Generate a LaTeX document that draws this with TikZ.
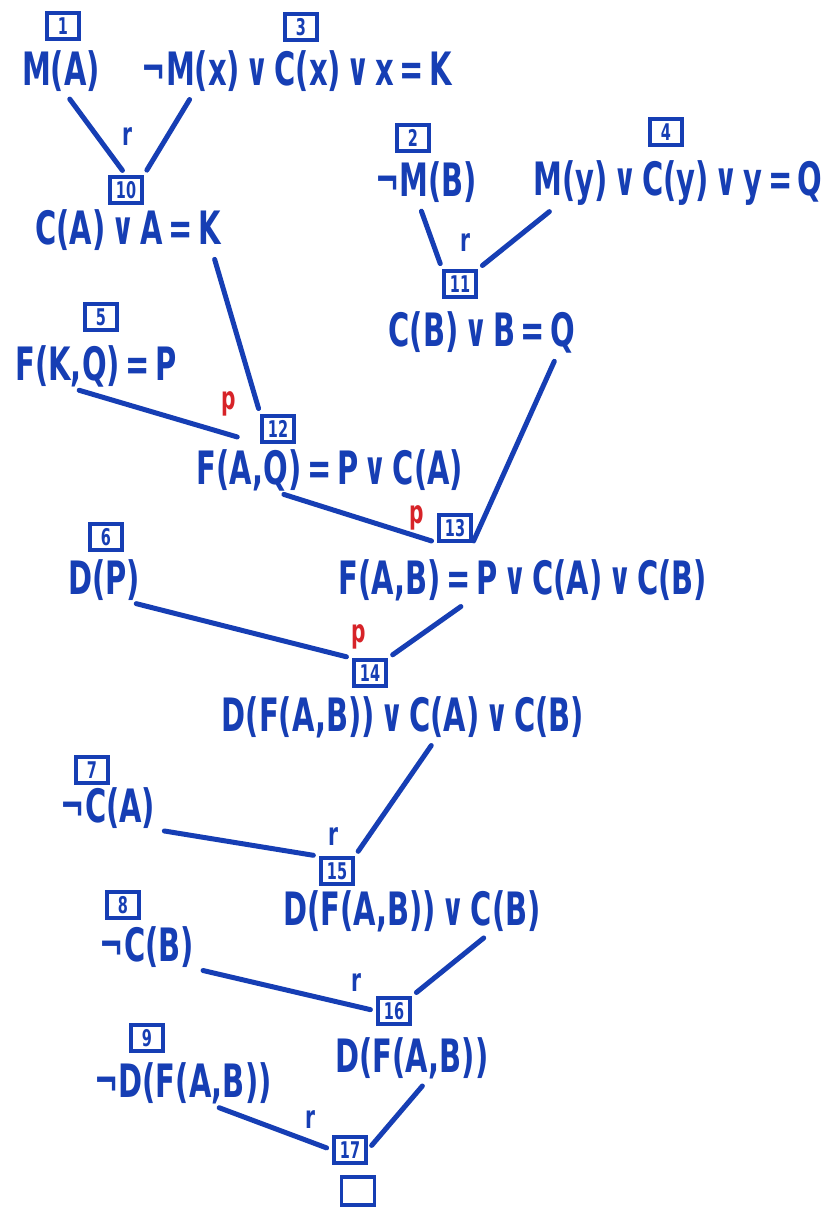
\documentclass[tikz,border=0pt]{standalone}
\usepackage{fontspec}
\newfontfamily\hand[FakeStretch=0.63,WordSpace=0.55]{DejaVu Sans}
\usetikzlibrary{calc}
\definecolor{ink}{RGB}{22,62,180}
\definecolor{redink}{RGB}{215,35,40}

\begin{document}
\begin{tikzpicture}
[x=1pt,y=-1pt,
 every node/.style={text=ink},
 clause/.style={inner sep=1pt,font=\hand\bfseries\fontsize{46}{50}\selectfont},
 num/.style={draw=ink,line width=3.5pt,minimum width=32pt,minimum height=26pt,
             inner sep=1pt,font=\hand\bfseries\fontsize{23}{24}\selectfont},
 link/.style={draw=ink,line width=5pt,line cap=round,shorten <=8pt,shorten >=6pt},
 res/.style={inner sep=0pt,font=\hand\bfseries\fontsize{32}{34}\selectfont},
 para/.style={res,text=redink}]

\useasboundingbox[fill=white] (0,0) rectangle (834,1208);

% input clauses
\node[clause] (c1) at (61,71) {M(A)};
\node[num] (b1) at (63,26) {1};
\node[clause] (c3) at (297,71) {¬M(x) ∨ C(x) ∨ x = K};
\node[num] (b3) at (301,27) {3};
\node[clause] (c2) at (426,182) {¬M(B)};
\node[num] (b2) at (413,138) {2};
\node[clause] (c4) at (678,183) {M(y) ∨ C(y) ∨ y = Q};
\node[num] (b4) at (666,132) {4};
\node[clause] (c5) at (96,366) {F(K,Q) = P};
\node[num] (b5) at (101,317) {5};
\node[clause] (c6) at (104,580) {D(P)};
\node[num] (b6) at (106,537) {6};
\node[clause] (c7) at (108,808) {¬C(A)};
\node[num] (b7) at (92,770) {7};
\node[clause] (c8) at (147,947) {¬C(B)};
\node[num] (b8) at (123,905) {8};
\node[clause] (c9) at (183,1083) {¬D(F(A,B))};
\node[num] (b9) at (147,1038) {9};

% resolvents
\node[num] (b10) at (126,190) {10};
\node[clause] (c10) at (128,230) {C(A) ∨ A = K};
\node[num] (b11) at (460,284) {11};
\node[clause] (c11) at (482,332) {C(B) ∨ B = Q};
\node[num] (b12) at (278,429) {12};
\node[clause] (c12) at (330,470) {F(A,Q) = P ∨ C(A)};
\node[num] (b13) at (455,528) {13};
\node[clause] (c13) at (523,580) {F(A,B) = P ∨ C(A) ∨ C(B)};
\node[num] (b14) at (370,673) {14};
\node[clause] (c14) at (403,717) {D(F(A,B)) ∨ C(A) ∨ C(B)};
\node[num] (b15) at (337,871) {15};
\node[clause] (c15) at (412,911) {D(F(A,B)) ∨ C(B)};
\node[num] (b16) at (394,1011) {16};
\node[clause] (c16) at (412,1058) {D(F(A,B))};
\node[num] (b17) at (350,1150) {17};
\node[num,minimum width=33pt,minimum height=28pt] (empty) at (358,1191) {};

% rule marks
\node[res] (r10) at (127,137) {r};
\node[res] (r11) at (465,243) {r};
\node[para] (p12) at (229,404) {p};
\node[para] (p13) at (417,518) {p};
\node[para] (p14) at (359,637) {p};
\node[res] (r15) at (333,837) {r};
\node[res] (r16) at (356,983) {r};
\node[res] (r17) at (310,1120) {r};

% derivation lines
\draw[link] ($(c1.south west)!.55!(c1.south east)$) -- (b10.north);
\draw[link] ($(c3.south west)!.17!(c3.south east)$) -- (b10.north east);
\draw[link] ($(c2.south west)!.43!(c2.south east)$) -- (b11.north west);
\draw[link] ($(c4.south west)!.08!(c4.south east)$) -- (b11.north east);
\draw[link] ($(c10.south west)!.95!(c10.south east)$) -- (b12.north west);
\draw[link,shorten >=24pt] ($(c5.south west)!.35!(c5.south east)$) -- (b12.south west);
\draw[link] ($(c12.south west)!.3!(c12.south east)$) -- (b13.south west);
\draw[link,shorten >=2pt] ($(c11.south west)!.9!(c11.south east)$) -- (b13.south east);
\draw[link] ($(c6.south west)!.83!(c6.south east)$) -- (b14.north west);
\draw[link] ($(c13.south west)!.35!(c13.south east)$) -- (b14.north east);
\draw[link] ($(c14.south west)!.59!(c14.south east)$) -- (b15.north east);
\draw[link] (c7.south east) -- (b15.north west);
\draw[link] ($(c15.south west)!.8!(c15.south east)$) -- (b16.north east);
\draw[link] (c8.south east) -- (b16.west);
\draw[link] ($(c16.south west)!.6!(c16.south east)$) -- (b17.east);
\draw[link] ($(c9.south west)!.66!(c9.south east)$) -- (b17.west);
\end{tikzpicture}
\end{document}
